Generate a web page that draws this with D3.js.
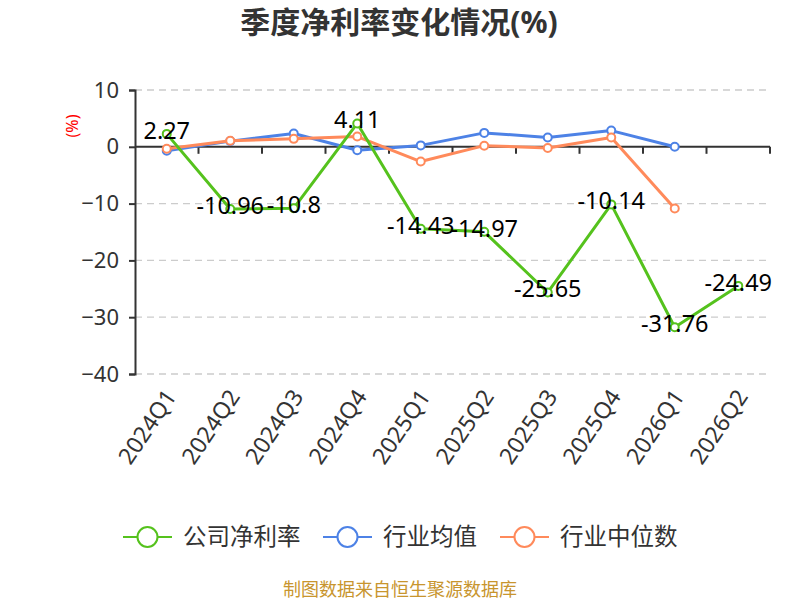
<!DOCTYPE html>
<html><head><meta charset="utf-8">
<script src="https://cdn.jsdelivr.net/npm/d3@7"></script>
<style>body{margin:0;background:#fff}svg{display:block}</style>
</head><body><svg id="c" width="800" height="600"></svg>
<script>
const categories = ["2024Q1","2024Q2","2024Q3","2024Q4","2025Q1","2025Q2","2025Q3","2025Q4","2026Q1","2026Q2"];
const companyNet = [2.27,-10.96,-10.8,4.11,-14.43,-14.97,-25.65,-10.14,-31.76,-24.49];
const industryAvg = [-0.7,1.0,2.35,-0.6,0.25,2.45,1.65,2.85,0.0,null];
const industryMedian = [-0.35,1.05,1.4,1.8,-2.6,0.2,-0.2,1.65,-10.85,null];
const yTicks = [10,0,-10,-20,-30,-40];
const seriesNames = ["公司净利率","行业均值","行业中位数"];
const colors = ["#55c21d","#4d82e6","#ff8a5b"];

const font = "'Noto Sans','Noto Sans CJK SC',sans-serif";
const svg = d3.select("#c");
const x = d3.scaleBand().domain(categories).range([135,770]);
const y = d3.scaleLinear().domain([-40,10]).range([374,90]);
const cx = c => x(c) + x.bandwidth()/2;

// title
svg.append("text").attr("x",399).attr("y",33).attr("text-anchor","middle")
  .attr("font-family",font).attr("font-size",30).attr("font-weight","bold").attr("fill","#333")
  .text("季度净利率变化情况(%)");

// grid
svg.append("g").selectAll("line").data(yTicks.filter(d=>d!==0)).join("line")
  .attr("x1",135).attr("x2",770).attr("y1",d=>y(d)).attr("y2",d=>y(d))
  .attr("stroke","#ccc").attr("stroke-width",1.3).attr("stroke-dasharray","7,5");

// y axis
const ya = svg.append("g").attr("transform","translate(135,0)")
  .call(d3.axisLeft(y).tickValues(yTicks).tickSize(6).tickPadding(10).tickFormat(d3.format("d")));
ya.select(".domain").attr("stroke","#333").attr("stroke-width",2);
ya.selectAll(".tick line").attr("stroke","#333").attr("stroke-width",2);
ya.selectAll(".tick text").attr("font-family",font).attr("font-size",22).attr("fill","#333");

// y label
svg.append("text").attr("transform","translate(78,126) rotate(-90)").attr("text-anchor","middle")
  .attr("font-family",font).attr("font-size",16).attr("fill","red").text("(%)");

// x axis at zero
const xa = svg.append("g");
xa.append("line").attr("x1",135).attr("x2",770).attr("y1",y(0)).attr("y2",y(0))
  .attr("stroke","#333").attr("stroke-width",2);
xa.selectAll("line.t").data(categories.map(c=>x(c)+x.bandwidth())).join("line").attr("class","t")
  .attr("x1",d=>d).attr("x2",d=>d).attr("y1",y(0)).attr("y2",y(0)+7)
  .attr("stroke","#333").attr("stroke-width",2);

// x labels
svg.append("g").selectAll("text").data(categories).join("text")
  .attr("transform",c=>`translate(${cx(c)+4},392) rotate(-56)`)
  .attr("text-anchor","end").attr("dy","0.35em")
  .attr("font-family",font).attr("font-size",23).attr("fill","#333").text(c=>c);

// series
const allSeries = [companyNet, industryAvg, industryMedian];
const line = d3.line().defined(d=>d.v!==null).x(d=>cx(d.c)).y(d=>y(d.v));
const order = [1,2,0];
order.forEach(i=>{
  const data = categories.map((c,j)=>({c, v: allSeries[i][j]}));
  const g = svg.append("g");
  g.append("path").datum(data).attr("d",line).attr("fill","none")
    .attr("stroke",colors[i]).attr("stroke-width",3).attr("stroke-linejoin","round");
  g.selectAll("circle").data(data.filter(d=>d.v!==null)).join("circle")
    .attr("cx",d=>cx(d.c)).attr("cy",d=>y(d.v)).attr("r",4)
    .attr("fill","#fff").attr("stroke",colors[i]).attr("stroke-width",2);
});

// labels for company
svg.append("g").selectAll("text").data(categories.map((c,j)=>({c,v:companyNet[j]}))).join("text")
  .attr("x",d=>cx(d.c)).attr("y",d=>y(d.v)+5).attr("text-anchor","middle")
  .attr("font-family",font).attr("font-size",23.5).attr("fill","#000")
  .text(d=>d.v);

// legend
const lx = [123,323,500];
const lg = svg.append("g");
seriesNames.forEach((n,i)=>{
  lg.append("line").attr("x1",lx[i]).attr("x2",lx[i]+49).attr("y1",537).attr("y2",537)
    .attr("stroke",colors[i]).attr("stroke-width",2);
  lg.append("circle").attr("cx",lx[i]+24.5).attr("cy",537).attr("r",10)
    .attr("fill","#fff").attr("stroke",colors[i]).attr("stroke-width",2);
  lg.append("text").attr("x",lx[i]+60).attr("y",537).attr("dy","0.35em")
    .attr("font-family",font).attr("font-size",23.5).attr("fill","#333").text(n);
});

// footer
svg.append("text").attr("x",400).attr("y",596).attr("text-anchor","middle")
  .attr("font-family",font).attr("font-size",18).attr("fill","#c8952e")
  .text("制图数据来自恒生聚源数据库");
</script></body></html>
